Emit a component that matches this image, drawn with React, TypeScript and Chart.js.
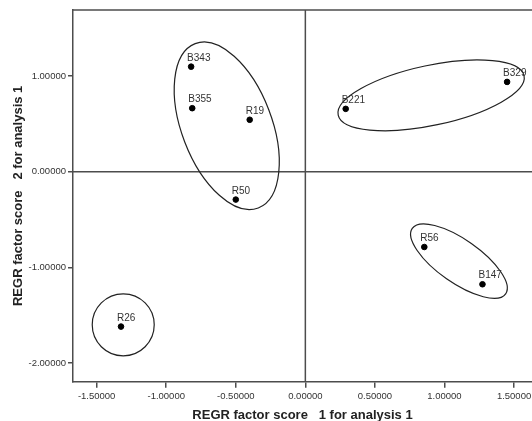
import React, { useEffect, useRef } from 'react';
import { Chart, registerables } from 'chart.js';

Chart.register(...registerables);

// ---- data ----
const pointLabels = ['B343', 'B355', 'R19', 'R50', 'B221', 'B329', 'R26', 'R56', 'B147'];
const factor1 = [-0.821, -0.813, -0.4, -0.5, 0.29, 1.45, -1.325, 0.855, 1.273];
const factor2 = [1.097, 0.663, 0.542, -0.292, 0.656, 0.9375, -1.619, -0.7875, -1.177];
const xTicks = [-1.5, -1.0, -0.5, 0, 0.5, 1.0, 1.5];
const yTicks = [-2.0, -1.0, 0, 1.0];
const xTitle = 'REGR factor score   1 for analysis 1';
const yTitle = 'REGR factor score   2 for analysis 1';

// group rings (centres in data units)
const ringCx = [-0.565, 0.904, 1.104, -1.309];
const ringCy = [0.479, 0.797, -0.935, -1.601];
// ring shape (pixels / degrees)
const ringShapes = [
  { rx: 88, ry: 45, rot: 69 },
  { rx: 95, ry: 30, rot: -12 },
  { rx: 57, ry: 21.6, rot: 35 },
  { rx: 31, ry: 31, rot: 0 },
];

const FONT = "'Liberation Sans', Arial, Helvetica, sans-serif";
const LINE = '#4d4d4d';

const overlay = {
  id: 'overlay',
  beforeDatasetsDraw(chart: any) {
    const { ctx, chartArea: ca, scales } = chart;
    const x = scales.x;
    const y = scales.y;
    ctx.save();
    ctx.strokeStyle = LINE;
    ctx.lineWidth = 1.5;
    ctx.beginPath();
    ctx.moveTo(ca.left, ca.top);
    ctx.lineTo(ca.right, ca.top);
    ctx.stroke();
    const x0 = x.getPixelForValue(0);
    const y0 = y.getPixelForValue(0);
    ctx.beginPath();
    ctx.moveTo(x0, ca.top);
    ctx.lineTo(x0, ca.bottom);
    ctx.moveTo(ca.left, y0);
    ctx.lineTo(ca.right, y0);
    ctx.stroke();
    ctx.strokeStyle = '#222';
    ctx.lineWidth = 1.2;
    ringCx.forEach((cx, i) => {
      const s = ringShapes[i];
      ctx.beginPath();
      ctx.ellipse(x.getPixelForValue(cx), y.getPixelForValue(ringCy[i]), s.rx, s.ry, (s.rot * Math.PI) / 180, 0, Math.PI * 2);
      ctx.stroke();
    });
    ctx.restore();
  },
  afterDatasetsDraw(chart: any) {
    const { ctx } = chart;
    const meta = chart.getDatasetMeta(0);
    ctx.save();
    ctx.font = `10px ${FONT}`;
    ctx.fillStyle = '#333';
    ctx.textAlign = 'left';
    ctx.textBaseline = 'alphabetic';
    meta.data.forEach((el: any, i: number) => {
      ctx.fillText(pointLabels[i], el.x - 4, el.y - 6);
    });
    ctx.restore();
  },
};

export default function App() {
  const ref = useRef<HTMLCanvasElement>(null);
  useEffect(() => {
    if (!ref.current) return;
    const chart = new Chart(ref.current, {
      type: 'scatter',
      data: {
        datasets: [
          {
            data: factor1.map((v, i) => ({ x: v, y: factor2[i] })),
            backgroundColor: '#000',
            borderColor: '#000',
            pointRadius: 2.8,
            pointHoverRadius: 2.8,
          },
        ],
      },
      options: {
        animation: false,
        responsive: false,
        events: [],
        layout: { autoPadding: false, padding: { left: 0, right: 0, top: 10, bottom: 0 } },
        plugins: { legend: { display: false }, tooltip: { enabled: false } },
        scales: {
          x: {
            type: 'linear',
            min: -1.67,
            max: 1.629,
            afterBuildTicks: (s: any) => {
              s.ticks = xTicks.map((v) => ({ value: v }));
            },
            afterFit: (s: any) => {
              s.height = 39.3;
              s.paddingLeft = 0;
              s.paddingRight = 0;
            },
            ticks: {
              callback: (v: any) => Number(v).toFixed(5),
              font: { family: FONT, size: 9.5 },
              color: '#333',
              padding: 3,
              maxRotation: 0,
              autoSkip: false,
            },
            grid: { drawOnChartArea: false, drawTicks: true, tickLength: 6, color: LINE, lineWidth: 1.5 },
            border: { display: true, color: LINE, width: 1.5 },
            title: {
              display: true,
              text: xTitle,
              font: { family: FONT, size: 13, weight: 'bold', lineHeight: 1 },
              color: '#222',
              padding: { top: 0, bottom: -0.5 },
            },
          },
          y: {
            type: 'linear',
            min: -2.195,
            max: 1.689,
            afterBuildTicks: (s: any) => {
              s.ticks = yTicks.map((v) => ({ value: v }));
            },
            afterFit: (s: any) => {
              s.width = 73;
              s.paddingTop = 0;
              s.paddingBottom = 0;
            },
            ticks: {
              callback: (v: any) => Number(v).toFixed(5),
              font: { family: FONT, size: 9.5 },
              color: '#333',
              padding: 2,
              autoSkip: false,
            },
            grid: { drawOnChartArea: false, drawTicks: true, tickLength: 5, color: LINE, lineWidth: 1.5 },
            border: { display: true, color: LINE, width: 1.5 },
            title: {
              display: true,
              text: yTitle,
              font: { family: FONT, size: 13, weight: 'bold', lineHeight: 1 },
              color: '#222',
              padding: { top: 12, bottom: 0 },
            },
          },
        },
      },
      plugins: [overlay],
    } as any);
    return () => chart.destroy();
  }, []);
  return (
    <div style={{ position: 'absolute', left: 0, top: 0, width: 532, height: 421, background: '#fff' }}>
      <canvas ref={ref} width={532} height={421} style={{ display: 'block' }} />
    </div>
  );
}
